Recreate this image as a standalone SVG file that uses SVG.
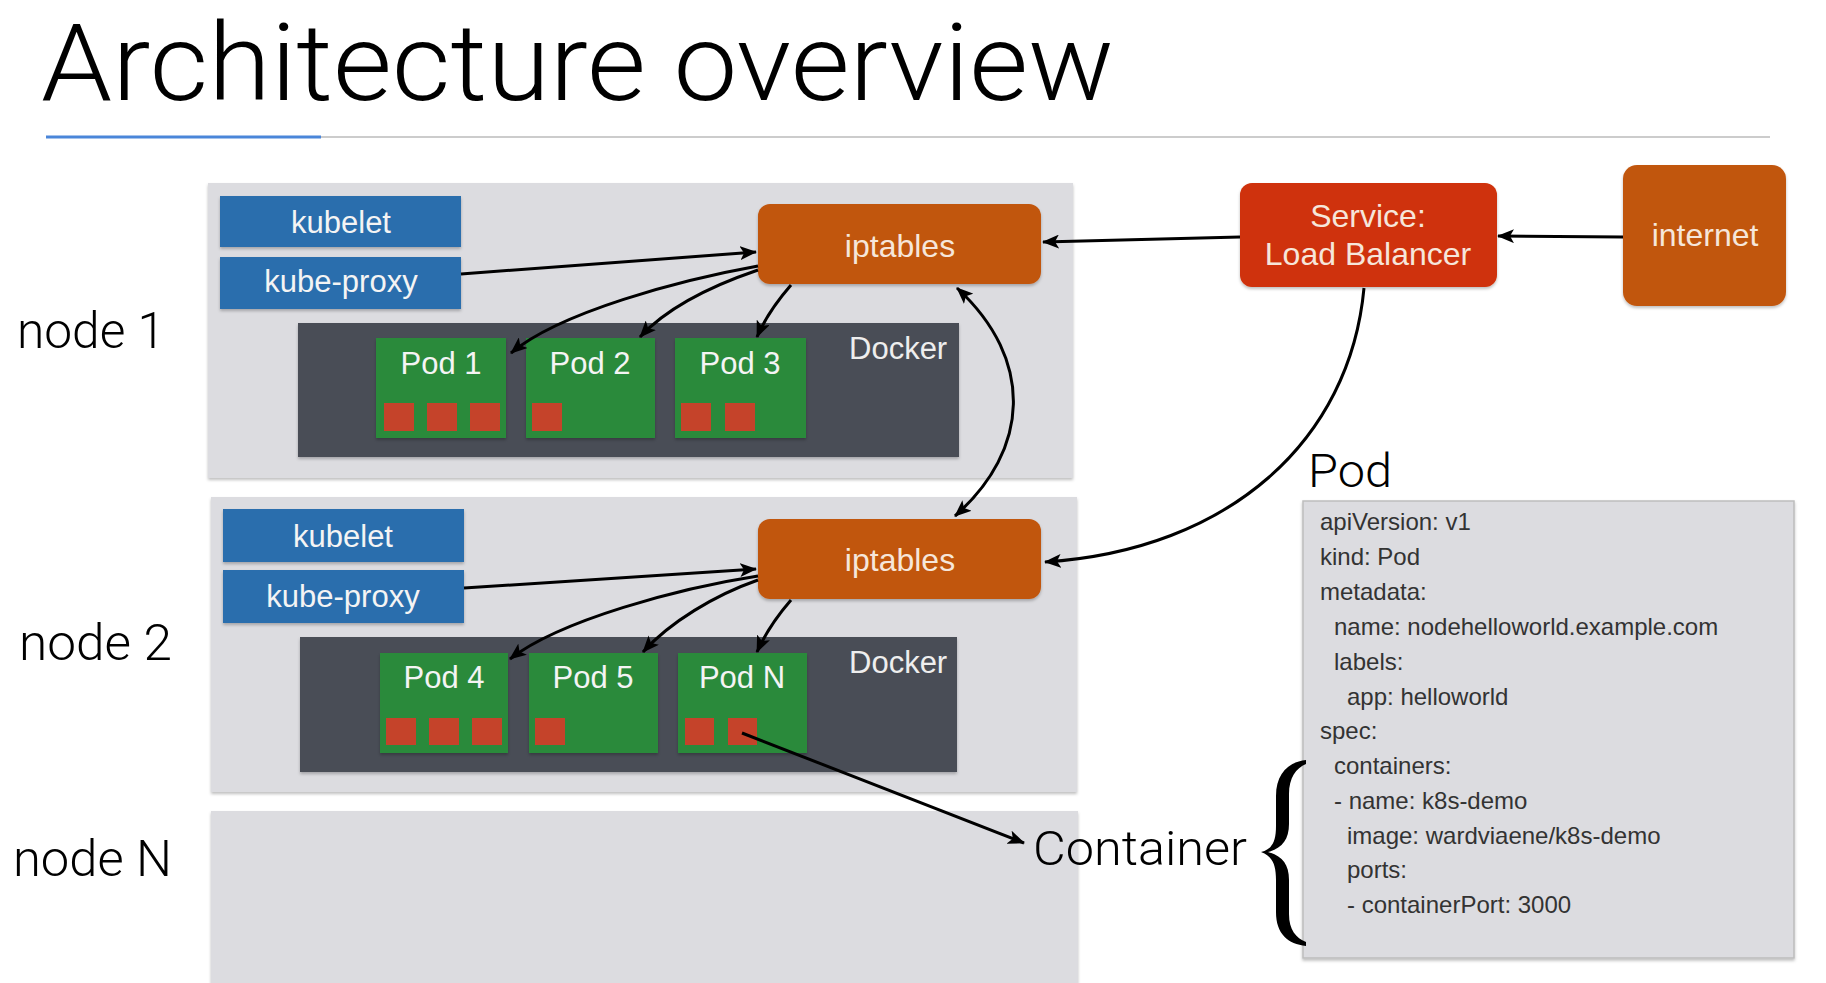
<svg xmlns="http://www.w3.org/2000/svg" width="1826" height="983" viewBox="0 0 1826 983">
<defs>
<style>
.sans{font-family:"Liberation Sans",Arial,sans-serif}
.light{font-family:Roboto,"Liberation Sans",sans-serif;font-weight:300;fill:#000}
.node{fill:#DCDCE0}
.blue{fill:#2C6EAD}
.orange{fill:#C1560F}
.red{fill:#CF3108}
.docker{fill:#4A4D57}
.pod{fill:#2A8A3B}
.ctr{fill:#C5432A}
.wt{fill:#F4F4F4;font-size:31px;text-anchor:middle}
.wo{fill:#F6E6DA;font-size:32px;text-anchor:middle}
.yaml{fill:#333;font-size:24px}
.conn{fill:none;stroke:#000;stroke-width:3}
</style>
<filter id="sh" x="-5%" y="-5%" width="110%" height="115%">
<feDropShadow dx="0" dy="2" stdDeviation="1.5" flood-color="#000" flood-opacity="0.25"/>
</filter>
<marker id="ah" markerUnits="userSpaceOnUse" markerWidth="18" markerHeight="14" refX="16" refY="7" orient="auto-start-reverse">
<path d="M0,0 L17,7 L0,14 L4,7 Z" fill="#000"/>
</marker>
</defs>
<rect width="1826" height="983" fill="#fff"/>

<g id="title">
<text class="light" x="41" y="100" font-size="107" textLength="1073" lengthAdjust="spacingAndGlyphs">Architecture overview</text>
<rect x="46" y="136" width="1724" height="2" fill="#CCCCCC"/>
<rect x="46" y="135.5" width="275" height="3" fill="#4A86D9"/>
</g>

<g id="node1">
<rect class="node" x="208" y="183" width="865" height="295" filter="url(#sh)"/>
<text class="light" x="17" y="348" font-size="50" textLength="148" lengthAdjust="spacingAndGlyphs">node 1</text>
</g>
<g id="kubelet1">
<rect class="blue" x="220" y="196" width="241" height="51" filter="url(#sh)"/>
<text class="sans wt" x="341" y="233" font-size="32">kubelet</text>
</g>
<g id="kubeproxy1">
<rect class="blue" x="220" y="257" width="241" height="52" filter="url(#sh)"/>
<text class="sans wt" x="341" y="292" font-size="32">kube-proxy</text>
</g>
<g id="docker1">
<rect class="docker" x="298" y="323" width="661" height="134" filter="url(#sh)"/>
<text class="sans" x="849" y="359" font-size="31" fill="#EEE">Docker</text>
</g>
<g id="pod1">
<rect class="pod" x="376" y="338" width="130" height="100" filter="url(#sh)"/>
<text class="sans wt" x="441" y="374">Pod 1</text>
<rect class="ctr" x="384" y="403" width="30" height="28"/>
<rect class="ctr" x="427" y="403" width="30" height="28"/>
<rect class="ctr" x="470" y="403" width="30" height="28"/>
</g>
<g id="pod2">
<rect class="pod" x="526" y="338" width="129" height="100" filter="url(#sh)"/>
<text class="sans wt" x="590" y="374">Pod 2</text>
<rect class="ctr" x="532" y="403" width="30" height="28"/>
</g>
<g id="pod3">
<rect class="pod" x="675" y="338" width="131" height="100" filter="url(#sh)"/>
<text class="sans wt" x="740" y="374">Pod 3</text>
<rect class="ctr" x="681" y="403" width="30" height="28"/>
<rect class="ctr" x="725" y="403" width="30" height="28"/>
</g>
<g id="iptables1">
<rect class="orange" x="758" y="204" width="283" height="80" rx="12" filter="url(#sh)"/>
<text class="sans wo" x="900" y="257">iptables</text>
</g>

<g id="node2">
<rect class="node" x="211" y="497" width="866" height="295" filter="url(#sh)"/>
<text class="light" x="19" y="660" font-size="50" textLength="153" lengthAdjust="spacingAndGlyphs">node 2</text>
</g>
<g id="kubelet2">
<rect class="blue" x="223" y="509" width="241" height="53" filter="url(#sh)"/>
<text class="sans wt" x="343" y="547" font-size="32">kubelet</text>
</g>
<g id="kubeproxy2">
<rect class="blue" x="223" y="570" width="241" height="53" filter="url(#sh)"/>
<text class="sans wt" x="343" y="607" font-size="32">kube-proxy</text>
</g>
<g id="docker2">
<rect class="docker" x="300" y="637" width="657" height="135" filter="url(#sh)"/>
<text class="sans" x="849" y="673" font-size="31" fill="#EEE">Docker</text>
</g>
<g id="pod4">
<rect class="pod" x="380" y="653" width="128" height="100" filter="url(#sh)"/>
<text class="sans wt" x="444" y="688">Pod 4</text>
<rect class="ctr" x="386" y="718" width="30" height="27"/>
<rect class="ctr" x="429" y="718" width="30" height="27"/>
<rect class="ctr" x="472" y="718" width="30" height="27"/>
</g>
<g id="pod5">
<rect class="pod" x="529" y="653" width="129" height="100" filter="url(#sh)"/>
<text class="sans wt" x="593" y="688">Pod 5</text>
<rect class="ctr" x="535" y="718" width="30" height="27"/>
</g>
<g id="podN">
<rect class="pod" x="678" y="653" width="129" height="100" filter="url(#sh)"/>
<text class="sans wt" x="742" y="688">Pod N</text>
<rect class="ctr" x="685" y="718" width="29" height="27"/>
<rect class="ctr" x="728" y="718" width="29" height="27"/>
</g>
<g id="iptables2">
<rect class="orange" x="758" y="519" width="283" height="80" rx="12" filter="url(#sh)"/>
<text class="sans wo" x="900" y="571">iptables</text>
</g>

<g id="nodeN">
<rect class="node" x="211" y="811" width="867" height="180" filter="url(#sh)"/>
<text class="light" x="13" y="876" font-size="50" textLength="159" lengthAdjust="spacingAndGlyphs">node N</text>
</g>

<g id="service">
<rect class="red" x="1240" y="183" width="257" height="104" rx="12" filter="url(#sh)"/>
<text class="sans wo" x="1368" y="227" font-size="31">Service:</text>
<text class="sans wo" x="1368" y="265" font-size="31">Load Balancer</text>
</g>
<g id="internet">
<rect class="orange" x="1623" y="165" width="163" height="141" rx="14" filter="url(#sh)"/>
<text class="sans wo" x="1705" y="246">internet</text>
</g>

<g id="podspec">
<text class="light" x="1308" y="487" font-size="46" textLength="84" lengthAdjust="spacingAndGlyphs">Pod</text>
<rect x="1303" y="501" width="491" height="457" fill="#DCDCE0" stroke="#BDBDBD" stroke-width="1.5" filter="url(#sh)"/>
<g class="sans yaml">
<text x="1320" y="530">apiVersion: v1</text>
<text x="1320" y="565">kind: Pod</text>
<text x="1320" y="600">metadata:</text>
<text x="1334" y="635">name: nodehelloworld.example.com</text>
<text x="1334" y="670">labels:</text>
<text x="1347" y="705">app: helloworld</text>
<text x="1320" y="739">spec:</text>
<text x="1334" y="774">containers:</text>
<text x="1334" y="809">- name: k8s-demo</text>
<text x="1347" y="844">image: wardviaene/k8s-demo</text>
<text x="1347" y="878">ports:</text>
<text x="1347" y="913">- containerPort: 3000</text>
</g>
</g>

<g id="container">
<text class="light" x="1033" y="865" font-size="49" textLength="214" lengthAdjust="spacingAndGlyphs">Container</text>
<path d="M1306,760 C1288,762 1276,774 1276,796 L1276,826 C1276,842 1272,849 1261,852 C1272,856 1276,864 1276,880 L1276,912 C1276,934 1288,944 1306,946 L1306,942 C1296,938 1289,930 1289,914 L1289,880 C1289,864 1282,856 1268,852 C1282,848 1289,840 1289,824 L1289,794 C1289,778 1296,768 1306,764 Z" fill="#000"/>
</g>

<g id="connectors">
<path class="conn" d="M1623,237 L1498,236" marker-end="url(#ah)"/>
<path class="conn" d="M1240,237 L1043,242" marker-end="url(#ah)"/>
<path class="conn" d="M1364,288 C1350,440 1230,550 1045,562" marker-end="url(#ah)"/>
<path class="conn" d="M957,288 C1035,360 1030,450 955,516" marker-start="url(#ah)" marker-end="url(#ah)"/>
<path class="conn" d="M461,274 L756,252" marker-end="url(#ah)"/>
<path class="conn" d="M758,266 C680,280 560,312 511,353" marker-end="url(#ah)"/>
<path class="conn" d="M758,270 C705,288 665,310 640,337" marker-end="url(#ah)"/>
<path class="conn" d="M791,285 C778,300 765,318 757,337" marker-end="url(#ah)"/>
<path class="conn" d="M464,588 L756,569" marker-end="url(#ah)"/>
<path class="conn" d="M758,576 C680,588 560,620 510,659" marker-end="url(#ah)"/>
<path class="conn" d="M758,580 C715,595 670,622 643,652" marker-end="url(#ah)"/>
<path class="conn" d="M791,600 C778,615 765,634 757,652" marker-end="url(#ah)"/>
<path class="conn" d="M742,733 L1024,843" marker-end="url(#ah)"/>
</g>
</svg>
